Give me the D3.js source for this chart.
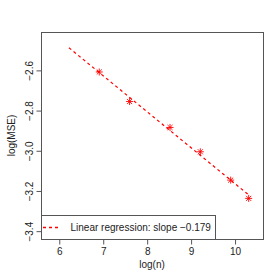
<!DOCTYPE html>
<html>
<head>
<meta charset="utf-8">
<script src="https://cdn.jsdelivr.net/npm/d3@7"></script>
<style>
  html, body { margin: 0; padding: 0; background: #fff; }
  svg { display: block; font-family: "Liberation Sans", Arial, sans-serif; }
</style>
</head>
<body>
<div id="chart"></div>
<script>
// observed points: log(n) vs log(MSE)
const logN = [6.91, 7.60, 8.52, 9.21, 9.90, 10.31];
const logMSE = [-2.608, -2.755, -2.884, -3.005, -3.146, -3.237];
// fitted line
const slope = -0.179;
const intercept = -1.374;
const lineX = [6.22, 10.31];
const xTicks = [6, 7, 8, 9, 10];
const yTicks = [-3.4, -3.2, -3.0, -2.8, -2.6];
const legendLabel = "Linear regression: slope \u22120.179";

const W = 280, H = 280;
const plot = { left: 41, top: 32, right: 263, bottom: 239 };

const svg = d3.select("#chart").append("svg")
    .attr("width", W).attr("height", H);

svg.append("rect").attr("width", W).attr("height", H).attr("fill", "#fff");

const x = d3.scaleLinear().domain([5.584, 10.636]).range([plot.left, plot.right]);
const y = d3.scaleLinear().domain([-3.439, -2.409]).range([plot.bottom, plot.top]);

const axisColor = "#555";
const red = "#ff0000";
const fmt = d => d3.format(".1f")(d).replace("-", "\u2212");

// x axis
const xAxis = svg.append("g")
    .attr("transform", `translate(0,${plot.bottom + 0.5})`)
    .call(d3.axisBottom(x).tickValues(xTicks).tickSize(5).tickPadding(3).tickFormat(d3.format("d")));
xAxis.select(".domain").remove();
xAxis.selectAll("line").attr("stroke", axisColor);
xAxis.selectAll("text").attr("font-size", 10).attr("fill", "#222")
    .attr("font-family", "Liberation Sans, Arial, sans-serif");

// y axis, labels rotated like base R
const yAxis = svg.append("g")
    .attr("transform", `translate(${plot.left + 0.5},0)`)
    .call(d3.axisLeft(y).tickValues(yTicks).tickSize(5).tickFormat(fmt));
yAxis.select(".domain").remove();
yAxis.selectAll("line").attr("stroke", axisColor);
yAxis.selectAll("text")
    .attr("font-size", 10).attr("fill", "#222")
    .attr("font-family", "Liberation Sans, Arial, sans-serif")
    .attr("x", null).attr("dy", null)
    .attr("text-anchor", "middle")
    .attr("transform", "translate(-9,0) rotate(-90)");

// plot box
svg.append("rect")
    .attr("x", plot.left + 0.5).attr("y", plot.top + 0.5)
    .attr("width", plot.right - plot.left).attr("height", plot.bottom - plot.top)
    .attr("fill", "none").attr("stroke", axisColor);

// regression line
svg.append("path")
    .attr("d", d3.line()(lineX.map(v => [x(v), y(intercept + slope * v)])))
    .attr("fill", "none")
    .attr("stroke", red).attr("stroke-width", 1.2)
    .attr("stroke-dasharray", "3,3");

// asterisk markers
const r = 3.5;
const pts = svg.append("g").selectAll("g")
    .data(d3.zip(logN, logMSE))
    .join("g")
    .attr("transform", d => `translate(${x(d[0])},${y(d[1])})`)
    .attr("stroke", red).attr("stroke-width", 0.9);
pts.append("path")
    .attr("d", `M${-r},0H${r}M0,${-r}V${r}M${-r * 0.72},${-r * 0.72}L${r * 0.72},${r * 0.72}M${-r * 0.72},${r * 0.72}L${r * 0.72},${-r * 0.72}`);

// legend
const lg = { x0: plot.left, y0: 215, x1: 215 };
svg.append("rect")
    .attr("x", lg.x0 + 0.5).attr("y", lg.y0 + 0.5)
    .attr("width", lg.x1 - lg.x0).attr("height", plot.bottom - lg.y0)
    .attr("fill", "#fff").attr("stroke", axisColor);
const ly = (lg.y0 + plot.bottom) / 2 + 0.5;
svg.append("path")
    .attr("d", `M43,${ly}H61`)
    .attr("fill", "none")
    .attr("stroke", red).attr("stroke-width", 1.3)
    .attr("stroke-dasharray", "3,3");
svg.append("text")
    .attr("x", 70.5).attr("y", ly).attr("dy", "0.35em")
    .attr("font-size", 10).attr("fill", "#222")
    .text(legendLabel);

// axis titles
svg.append("text")
    .attr("x", (plot.left + plot.right) / 2).attr("y", 268)
    .attr("text-anchor", "middle").attr("font-size", 10).attr("fill", "#222")
    .text("log(n)");
svg.append("text")
    .attr("transform", `translate(15,${(plot.top + plot.bottom) / 2}) rotate(-90)`)
    .attr("text-anchor", "middle").attr("font-size", 10).attr("fill", "#222")
    .text("log(MSE)");
</script>
</body>
</html>
